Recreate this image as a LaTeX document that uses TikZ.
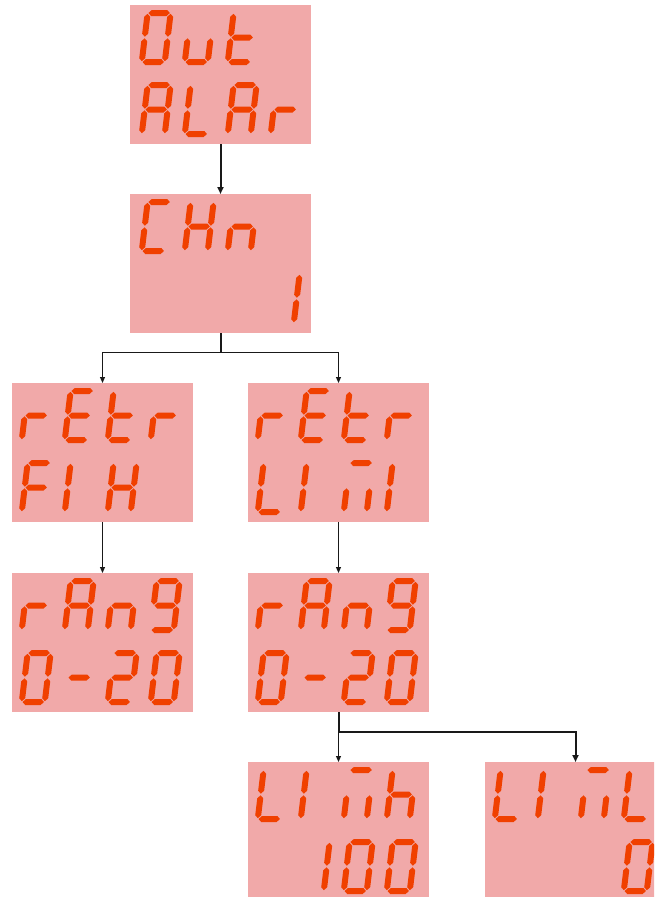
\documentclass[tikz,border=0pt]{standalone}
\usetikzlibrary{arrows.meta}
\definecolor{boxpink}{RGB}{241,169,169}
\definecolor{segred}{RGB}{240,64,0}
\definecolor{linec}{RGB}{25,25,25}
\tikzset{
  dispbox/.style={fill=boxpink, draw=none, rectangle, inner sep=0pt, outer sep=0pt,
    minimum width=181pt, minimum height=139pt, anchor=north west},
  conn/.style={draw=linec, line width=1pt, -{Triangle[length=6pt,width=5pt]}},
  boldconn/.style={draw=linec, line width=2pt, -{Triangle[length=7pt,width=6pt]}},
  stem/.style={draw=linec, line width=2pt},
}
\def\dsega{\fill[segred] (3.8,3) -- (6.8,0) -- (22.2,0) -- (25.2,3) -- (22.2,6) -- (6.8,6) -- cycle;}
\def\dsegg{\fill[segred] (3.8,27.5) -- (6.8,24.5) -- (22.2,24.5) -- (25.2,27.5) -- (22.2,30.5) -- (6.8,30.5) -- cycle;}
\def\dsegd{\fill[segred] (3.8,52) -- (6.8,49) -- (22.2,49) -- (25.2,52) -- (22.2,55) -- (6.8,55) -- cycle;}
\def\dsegf{\fill[segred] (3,3.8) -- (6,6.8) -- (6,23.7) -- (3,26.7) -- (0,23.7) -- (0,6.8) -- cycle;}
\def\dsege{\fill[segred] (3,28.3) -- (6,31.3) -- (6,48.2) -- (3,51.2) -- (0,48.2) -- (0,31.3) -- cycle;}
\def\dsegb{\fill[segred] (26,3.8) -- (29,6.8) -- (29,23.7) -- (26,26.7) -- (23,23.7) -- (23,6.8) -- cycle;}
\def\dsegc{\fill[segred] (26,28.3) -- (29,31.3) -- (29,48.2) -- (26,51.2) -- (23,48.2) -- (23,31.3) -- cycle;}
% #1 box left, #2 box top, #3 cell, #4 row, #5 segments
\newcommand\segchar[5]{%
  \begin{scope}[shift={({#1+13+43*#3},{#2+5+72*#4})},xslant=0.12]
    \foreach \s in {#5}{\csname dseg\s\endcsname}
  \end{scope}}
\begin{document}
\begin{tikzpicture}[x=1pt,y=-1pt]
\clip (0,0) rectangle (654,897);
% boxes
\node[dispbox] (b1) at (130,5) {};
\node[dispbox] (b2) at (130,194) {};
\node[dispbox] (b3) at (12,383) {};
\node[dispbox] (b4) at (248,383) {};
\node[dispbox] (b5) at (12,573) {};
\node[dispbox] (b6) at (248,573) {};
\node[dispbox] (b7) at (248,762) {};
\node[dispbox] (b8) at (485,762) {};
% box 1: Out / ALAr
\segchar{132}{5}{0}{0}{a,b,c,d,e,f}
\segchar{132}{5}{1}{0}{c,d,e}
\segchar{132}{5}{2}{0}{d,e,f,g}
\segchar{132}{5}{0}{1}{a,b,c,e,f,g}
\segchar{132}{5}{1}{1}{d,e,f}
\segchar{132}{5}{2}{1}{a,b,c,e,f,g}
\segchar{132}{5}{3}{1}{e,g}
% box 2: CHn / 1
\segchar{132}{194}{0}{0}{a,d,e,f}
\segchar{132}{194}{1}{0}{b,c,e,f,g}
\segchar{132}{194}{2}{0}{c,e,g}
\segchar{132}{194}{3}{1}{b,c}
% box 3: rEtr / FIH
\segchar{12}{383}{0}{0}{e,g}
\segchar{12}{383}{1}{0}{a,d,e,f,g}
\segchar{12}{383}{2}{0}{d,e,f,g}
\segchar{12}{383}{3}{0}{e,g}
\segchar{12}{383}{0}{1}{a,e,f,g}
\segchar{12}{383}{1}{1}{e,f}
\segchar{12}{383}{2}{1}{b,c,e,f,g}
% box 4: rEtr / LIMI
\segchar{248}{383}{0}{0}{e,g}
\segchar{248}{383}{1}{0}{a,d,e,f,g}
\segchar{248}{383}{2}{0}{d,e,f,g}
\segchar{248}{383}{3}{0}{e,g}
\segchar{248}{383}{0}{1}{d,e,f}
\segchar{248}{383}{1}{1}{e,f}
\segchar{248}{383}{2}{1}{a,c,e}
\segchar{248}{383}{3}{1}{e,f}
% box 5 and 6: rAng / 0-20
\foreach \bx in {12,248}{
  \segchar{\bx}{573}{0}{0}{e,g}
  \segchar{\bx}{573}{1}{0}{a,b,c,e,f,g}
  \segchar{\bx}{573}{2}{0}{c,e,g}
  \segchar{\bx}{573}{3}{0}{a,b,c,d,f,g}
  \segchar{\bx}{573}{0}{1}{a,b,c,d,e,f}
  \segchar{\bx}{573}{1}{1}{g}
  \segchar{\bx}{573}{2}{1}{a,b,d,e,g}
  \segchar{\bx}{573}{3}{1}{a,b,c,d,e,f}
}
% box 7: LIMh / 100
\segchar{248}{762}{0}{0}{d,e,f}
\segchar{248}{762}{1}{0}{e,f}
\segchar{248}{762}{2}{0}{a,c,e}
\segchar{248}{762}{3}{0}{c,e,f,g}
\segchar{248}{762}{1}{1}{b,c}
\segchar{248}{762}{2}{1}{a,b,c,d,e,f}
\segchar{248}{762}{3}{1}{a,b,c,d,e,f}
% box 8: LIML / 0
\segchar{485}{762}{0}{0}{d,e,f}
\segchar{485}{762}{1}{0}{e,f}
\segchar{485}{762}{2}{0}{a,c,e}
\segchar{485}{762}{3}{0}{d,e,f}
\segchar{485}{762}{3}{1}{a,b,c,d,e,f}
% connectors
\draw[boldconn] (b1.south) -- (b2.north);
\draw[stem] (b2.south) -- ++(0,19) coordinate (j1);
\draw[conn] (j1) -| (b3.north);
\draw[conn] (j1) -| (b4.north);
\draw[conn] (b3.south) -- (b5.north);
\draw[conn] (b4.south) -- (b6.north);
\draw[stem] (b6.south) -- ++(0,20) coordinate (j2);
\draw[conn] (j2) -| (b7.north);
\draw[boldconn] (j2) -| (b8.north);
\end{tikzpicture}
\end{document}
